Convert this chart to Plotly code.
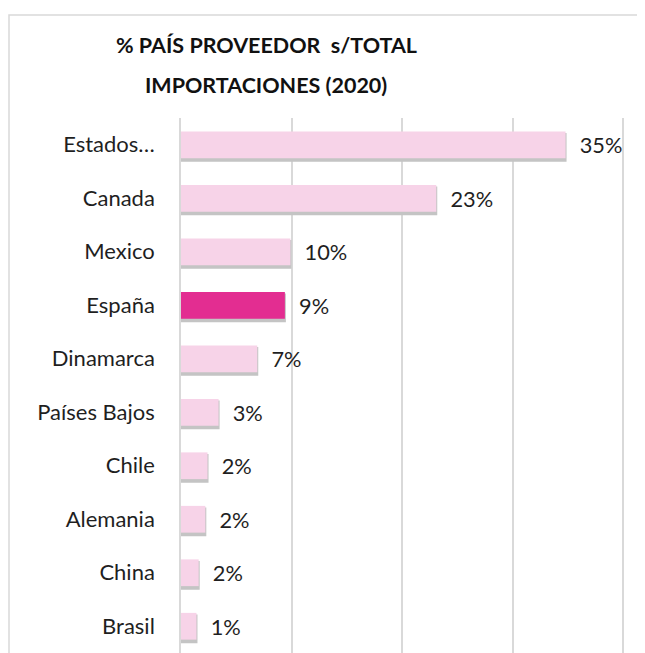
import plotly.graph_objects as go

# Datos (cuota sobre el total importado, 2020)
paises = ["Estados…", "Canada", "Mexico", "España", "Dinamarca",
          "Países Bajos", "Chile", "Alemania", "China", "Brasil"]
cuota = [0.348, 0.231, 0.099, 0.094, 0.069, 0.034, 0.024, 0.022, 0.016, 0.014]
destacado = "España"

ROSA = "#F7D3E8"
FUCSIA = "#E32D91"
colores = [FUCSIA if p == destacado else ROSA for p in paises]

# la página deja 8 px de margen en el body: se descuentan aquí
OFF = 8
W, H = 645 - OFF, 653 - OFF
L, R, T, B = 181 - OFF, 20, 118 - OFF, 0
pw, ph = W - L - R, H - T - B


def px_x(v):
    return (v - OFF - L) / pw


def px_y(v):
    return (H - B - (v - OFF)) / ph


fig = go.Figure()

# sombra suave bajo cada barra
fig.add_trace(go.Bar(
    y=paises, x=cuota, orientation="h",
    width=0.5, offset=-0.2,
    marker=dict(color="#c4c4c4", line=dict(color="#c4c4c4", width=2)),
    hoverinfo="skip", showlegend=False,
))
fig.add_trace(go.Bar(
    y=paises, x=cuota, orientation="h",
    width=0.5, offset=-0.25,
    marker=dict(color=colores, line=dict(width=0)),
    texttemplate="\u00a0\u00a0%{x:.0%}", textposition="outside",
    textfont=dict(family="Lato", size=22, color="#1f1f1f"),
    cliponaxis=False, showlegend=False,
))

titulo = ["<b>% PAÍS PROVEEDOR \u00a0s/TOTAL</b>", "<b>IMPORTACIONES (2020)</b>"]
titulo_y = [45, 85]

fig.update_layout(
    width=W, height=H,
    margin=dict(l=L, r=R, t=T, b=B),
    barmode="overlay",
    plot_bgcolor="white", paper_bgcolor="white",
    font=dict(family="Lato", color="#1f1f1f"),
    annotations=[
        dict(text=t, x=px_x(266), y=px_y(yy), xref="paper", yref="paper",
             showarrow=False, xanchor="center", yanchor="middle",
             font=dict(size=21.5, color="#111111"))
        for t, yy in zip(titulo, titulo_y)
    ],
    shapes=[
        dict(type="rect", xref="paper", yref="paper",
             x0=px_x(9), x1=px_x(700), y0=px_y(700), y1=px_y(15),
             line=dict(color="#d9d9d9", width=1.5), layer="below"),
    ],
)

fig.update_xaxes(range=[0, 0.4018], tickvals=[0.1, 0.2, 0.3, 0.4],
                 showticklabels=False,
                 showgrid=True, gridcolor="#d9d9d9", gridwidth=1.5,
                 zeroline=False, fixedrange=True)
fig.update_yaxes(autorange="reversed", showline=True, linecolor="#d9d9d9",
                 linewidth=1.5, ticks="", ticklabelstandoff=20,
                 tickfont=dict(family="Lato", size=22, color="#1f1f1f"))

fig.write_html("out.html")
